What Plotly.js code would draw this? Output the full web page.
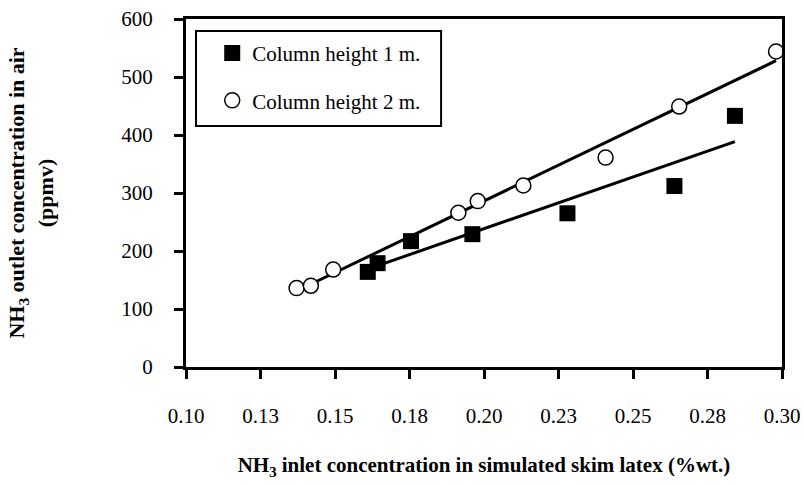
<!DOCTYPE html>
<html>
<head>
<meta charset="utf-8">
<script src="https://cdn.plot.ly/plotly-3.0.1.min.js"></script>
<style>html,body{margin:0;padding:0;background:#fff;}#chart{width:804px;height:485px;}</style>
</head>
<body>
<div id="chart"></div>
<script>
// Column height 1 m (filled squares)
const inlet1 = [0.1610, 0.1643, 0.1755, 0.1961, 0.2280, 0.2639, 0.2842];
const outlet1 = [164, 179, 217, 229, 265, 312, 433];
// Column height 2 m (open circles)
const inlet2 = [0.1371, 0.1419, 0.1494, 0.1914, 0.1979, 0.2132, 0.2408, 0.2655, 0.2980];
const outlet2 = [136, 140, 168, 266, 286, 313, 361, 449, 544];

const seriesNames = ["Column height 1 m.", "Column height 2 m."];
const xTickVals = [0.100, 0.125, 0.150, 0.175, 0.200, 0.225, 0.250, 0.275, 0.300];
const xTickText = ["0.10", "0.13", "0.15", "0.18", "0.20", "0.23", "0.25", "0.28", "0.30"];

function linFit(xs, ys) {
  const n = xs.length;
  const mx = xs.reduce((a, b) => a + b, 0) / n;
  const my = ys.reduce((a, b) => a + b, 0) / n;
  let sxy = 0, sxx = 0;
  for (let i = 0; i < n; i++) { sxy += (xs[i] - mx) * (ys[i] - my); sxx += (xs[i] - mx) ** 2; }
  const m = sxy / sxx, b = my - m * mx;
  const x0 = Math.min(...xs), x1 = Math.max(...xs);
  return { x: [x0, x1], y: [m * x0 + b, m * x1 + b] };
}
const fit1 = linFit(inlet1, outlet1);
const fit2 = linFit(inlet2, outlet2);

const FONT = "Liberation Serif, Times New Roman, serif";
const FS = 21;

const traces = [
  { x: fit1.x, y: fit1.y, mode: "lines", line: { color: "#000", width: 3 }, showlegend: false, hoverinfo: "skip" },
  { x: fit2.x, y: fit2.y, mode: "lines", line: { color: "#000", width: 3 }, showlegend: false, hoverinfo: "skip" },
  { x: inlet1, y: outlet1, mode: "markers", name: seriesNames[0], legendgroup: "a",
    marker: { symbol: "square", size: 16, color: "#000" } },
  { x: inlet2, y: outlet2, mode: "markers", name: seriesNames[1], legendgroup: "b",
    marker: { symbol: "circle", size: 15, color: "#fff", line: { color: "#000", width: 1.5 } } }
];

const layout = {
  width: 804, height: 485,
  margin: { l: 186, r: 22, t: 19, b: 118 },
  paper_bgcolor: "#fff", plot_bgcolor: "#fff",
  font: { family: FONT, color: "#000", size: FS },
  showlegend: true,
  legend: {
    x: 0.044, y: 0.96, xanchor: "left", yanchor: "top",
    bgcolor: "rgba(0,0,0,0)", borderwidth: 0,
    font: { family: FONT, size: FS, color: "#000" },
    traceorder: "grouped", tracegroupgap: 17
  },
  xaxis: {
    range: [0.10, 0.30],
    tickmode: "array", tickvals: xTickVals, ticktext: xTickText,
    ticks: "outside", ticklen: 9, tickwidth: 3, tickcolor: "#000",
    showline: true, linewidth: 3, linecolor: "#000", mirror: true,
    showgrid: false, zeroline: false,
    ticklabelstandoff: 19,
    tickfont: { family: FONT, size: FS, color: "#000" },
    title: { text: "<b>NH<sub>3</sub> inlet concentration in simulated skim latex (%wt.)</b>",
             font: { family: FONT, size: FS, color: "#000" }, standoff: 31 }
  },
  yaxis: {
    range: [0, 600], dtick: 100, tick0: 0,
    ticks: "outside", ticklen: 9, tickwidth: 3, tickcolor: "#000",
    showline: true, linewidth: 3, linecolor: "#000", mirror: true,
    showgrid: false, zeroline: false,
    ticklabelstandoff: 17,
    tickfont: { family: FONT, size: FS, color: "#000" },
    title: { text: "<b>NH<sub>3</sub> outlet concentration in air<br>(ppmv)</b>",
             font: { family: FONT, size: 22, color: "#000" }, standoff: 62 }
  },
  shapes: [{
    type: "rect", xref: "paper", yref: "paper",
    x0: 0.0168, x1: 0.428, y0: 0.6925, y1: 0.9655,
    line: { color: "#000", width: 2 }, fillcolor: "rgba(0,0,0,0)"
  }]
};

Plotly.newPlot("chart", traces, layout, { staticPlot: true, displayModeBar: false });
</script>
</body>
</html>
